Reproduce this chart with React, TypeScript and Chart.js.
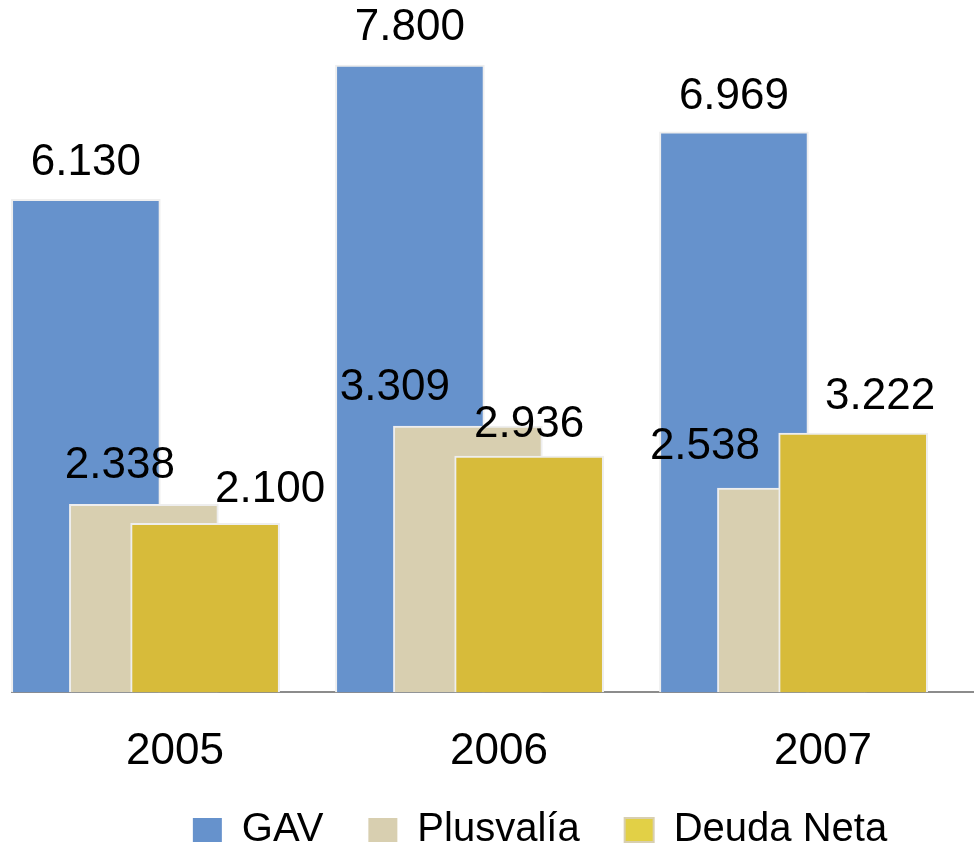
import React, { useEffect, useRef } from 'react';
import { Chart, registerables } from 'chart.js';

Chart.register(...registerables);

// ---- data ----
const years = ['2005', '2006', '2007'];
const seriesNames = ['GAV', 'Plusvalía', 'Deuda Neta'];
const gav = [6130, 7800, 6969];
const plusvalia = [2338, 3309, 2538];
const deudaNeta = [2100, 2936, 3222];

// ---- style ----
const FONT = '"Liberation Sans", Arial, sans-serif';
const barColors = ['#6692CC', '#D8CFB0', '#D7BB3A'];
const legendFill = ['#6692CC', '#D8CFB0', '#E2D046'];
const seriesOffsets = [-0.275, -0.096, 0.093];
const labelDx = [
  [0, 0, 0],
  [-24, -73, -87],
  [65, 0, 27],
];
const labelDy = [
  [-36, -37, -35],
  [-38, -38, -41],
  [-33, -31, -36],
];

function fmt(v: number): string {
  return String(v).replace(/\B(?=(\d{3})+(?!\d))/g, '.');
}

const valueLabels = {
  id: 'valueLabels',
  afterDatasetsDraw(chart: any) {
    const ctx = chart.ctx;
    ctx.save();
    ctx.font = `44px ${FONT}`;
    ctx.fillStyle = '#000';
    ctx.textAlign = 'center';
    ctx.textBaseline = 'middle';
    chart.data.datasets.forEach((ds: any, di: number) => {
      const meta = chart.getDatasetMeta(di);
      meta.data.forEach((el: any, i: number) => {
        const v = ds.data[i].y;
        ctx.fillText(fmt(v), el.x + labelDx[di][i], el.y + labelDy[di][i]);
      });
    });
    ctx.restore();
  },
};

export default function App() {
  const ref = useRef<HTMLCanvasElement | null>(null);

  useEffect(() => {
    document.body.style.margin = '0';
    document.body.style.overflow = 'hidden';
    const series = [gav, plusvalia, deudaNeta];
    const chart = new Chart(ref.current as HTMLCanvasElement, {
      type: 'bar',
      data: {
        datasets: series.map((vals, si) => ({
          label: seriesNames[si],
          data: vals.map((v, i) => ({ x: i + seriesOffsets[si], y: v })),
          backgroundColor: barColors[si],
          borderColor: '#EEEEEE',
          borderWidth: 2,
          barThickness: 149,
          grouped: false,
          order: 3 - si,
          clip: false,
        })),
      },
      options: {
        animation: false,
        responsive: false,
        layout: { padding: { left: 12, right: 0, top: 0, bottom: -14 } },
        scales: {
          x: {
            type: 'linear',
            offset: false,
            min: -0.503,
            max: 2.756,
            grid: { display: false, drawTicks: false, offset: false },
            border: { display: true, color: '#8C8C8C', width: 2 },
            afterBuildTicks: (s: any) => {
              s.ticks = years.map((_, i) => ({ value: i }));
            },
            afterFit: (s: any) => {
              s.height = s.height - 46;
            },
            ticks: {
              autoSkip: false,
              maxRotation: 0,
              padding: 33,
              color: '#000',
              font: { family: FONT, size: 44 },
              callback: (v: any) => years[v] ?? '',
            },
          },
          y: { display: false, min: 0, max: 8609 },
        },
        plugins: {
          tooltip: { enabled: false },
          legend: {
            position: 'bottom',
            labels: {
              color: '#000',
              font: { family: FONT, size: 40 },
              boxWidth: 29,
              boxHeight: 24,
              padding: 45,
              sort: (a: any, b: any) => a.datasetIndex - b.datasetIndex,
              generateLabels: (c: any) =>
                (Chart.defaults.plugins.legend.labels.generateLabels as any)(c).map((it: any) => ({
                  ...it,
                  fillStyle: legendFill[it.datasetIndex],
                  strokeStyle: '#D8CFB0',
                  lineWidth: it.datasetIndex === 2 ? 2 : 0,
                })),
            },
          },
        },
      },
      plugins: [valueLabels],
    } as any);
    return () => chart.destroy();
  }, []);

  return (
    <div style={{ width: 1068, height: 846 }}>
      <canvas ref={ref} width={1068} height={846} />
    </div>
  );
}
